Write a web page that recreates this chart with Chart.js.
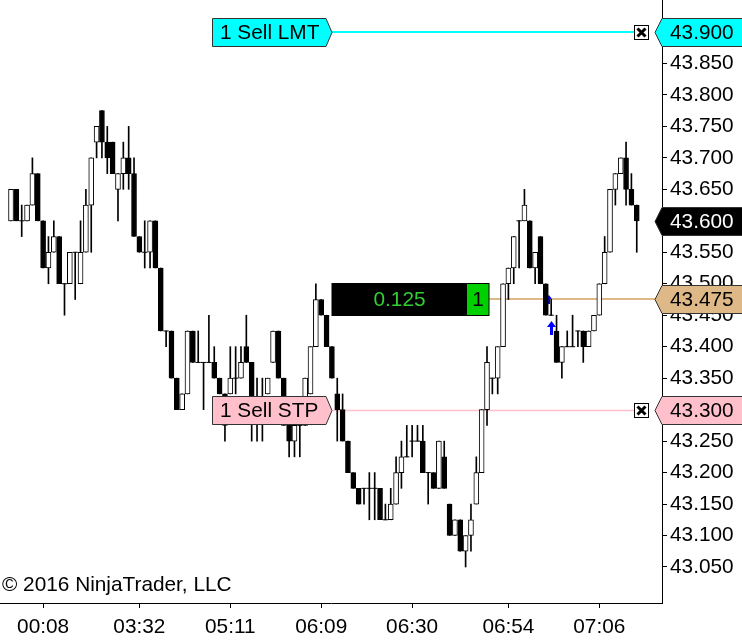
<!DOCTYPE html>
<html>
<head>
<meta charset="UTF-8">
<title>Chart</title>
<script src="https://cdn.jsdelivr.net/npm/chart.js"></script>
<style>
  html, body { margin: 0; padding: 0; background: #fff; }
  #box { width: 742px; height: 644px; }
</style>
</head>
<body>
<div id="box"><canvas id="grafico"></canvas></div>
<script>
// OHLC per bar (tick size 0.025)
const opens = [
  43.600, 43.650, 43.600, 43.600, 43.625, 43.675, 43.600, 43.525, 43.550, 43.575,
  43.500, 43.500, 43.550, 43.500, 43.550, 43.625, 43.725, 43.775, 43.725, 43.725,
  43.650, 43.675, 43.700, 43.675, 43.575, 43.550, 43.550, 43.600, 43.525, 43.425,
  43.425, 43.350, 43.300, 43.325, 43.425, 43.375, 43.375, 43.375, 43.375, 43.350,
  43.325, 43.325, 43.350, 43.350, 43.400, 43.375, 43.300, 43.300, 43.325, 43.375,
  43.425, 43.350, 43.275, 43.250, 43.275, 43.275, 43.325, 43.400, 43.475, 43.450,
  43.400, 43.325, 43.300, 43.250, 43.200, 43.175, 43.175, 43.175, 43.175, 43.175,
  43.125, 43.125, 43.150, 43.200, 43.225, 43.250, 43.250, 43.250, 43.200, 43.200,
  43.175, 43.225, 43.150, 43.100, 43.125, 43.075, 43.100, 43.150, 43.200, 43.300,
  43.350, 43.350, 43.400, 43.500, 43.525, 43.600, 43.600, 43.600, 43.525, 43.575,
  43.500, 43.450, 43.425, 43.375, 43.400, 43.400, 43.425, 43.425, 43.400, 43.425,
  43.450, 43.500, 43.550, 43.650, 43.675, 43.700, 43.650, 43.625
];
const highs = [
  43.650, 43.650, 43.625, 43.625, 43.700, 43.675, 43.600, 43.575, 43.600, 43.575,
  43.500, 43.550, 43.550, 43.600, 43.650, 43.700, 43.750, 43.775, 43.750, 43.725,
  43.675, 43.725, 43.750, 43.700, 43.575, 43.600, 43.600, 43.600, 43.525, 43.425,
  43.425, 43.350, 43.325, 43.425, 43.425, 43.425, 43.375, 43.450, 43.400, 43.350,
  43.325, 43.400, 43.400, 43.400, 43.450, 43.375, 43.350, 43.350, 43.350, 43.425,
  43.425, 43.350, 43.275, 43.275, 43.300, 43.350, 43.400, 43.500, 43.475, 43.450,
  43.400, 43.350, 43.325, 43.250, 43.200, 43.175, 43.175, 43.200, 43.200, 43.175,
  43.150, 43.175, 43.225, 43.250, 43.275, 43.275, 43.275, 43.275, 43.200, 43.200,
  43.250, 43.250, 43.150, 43.125, 43.125, 43.100, 43.150, 43.225, 43.300, 43.400,
  43.350, 43.400, 43.500, 43.525, 43.575, 43.600, 43.650, 43.600, 43.550, 43.575,
  43.500, 43.475, 43.450, 43.400, 43.425, 43.450, 43.425, 43.425, 43.425, 43.450,
  43.500, 43.575, 43.650, 43.675, 43.700, 43.725, 43.675, 43.625
];
const lows = [
  43.600, 43.600, 43.575, 43.600, 43.625, 43.600, 43.525, 43.500, 43.550, 43.500,
  43.450, 43.500, 43.475, 43.500, 43.550, 43.550, 43.700, 43.700, 43.675, 43.675,
  43.600, 43.650, 43.650, 43.575, 43.550, 43.525, 43.525, 43.525, 43.425, 43.400,
  43.350, 43.300, 43.300, 43.325, 43.375, 43.375, 43.300, 43.375, 43.350, 43.325,
  43.250, 43.325, 43.325, 43.350, 43.375, 43.250, 43.250, 43.250, 43.325, 43.375,
  43.350, 43.275, 43.225, 43.225, 43.225, 43.275, 43.325, 43.400, 43.450, 43.400,
  43.350, 43.250, 43.250, 43.200, 43.175, 43.150, 43.150, 43.125, 43.125, 43.125,
  43.125, 43.125, 43.150, 43.175, 43.225, 43.225, 43.250, 43.200, 43.150, 43.175,
  43.175, 43.175, 43.100, 43.100, 43.075, 43.050, 43.075, 43.150, 43.200, 43.275,
  43.325, 43.325, 43.400, 43.475, 43.500, 43.525, 43.600, 43.525, 43.500, 43.500,
  43.450, 43.450, 43.375, 43.350, 43.400, 43.400, 43.400, 43.375, 43.400, 43.425,
  43.450, 43.500, 43.550, 43.625, 43.675, 43.625, 43.625, 43.550
];
const closes = [
  43.650, 43.600, 43.600, 43.625, 43.675, 43.600, 43.525, 43.550, 43.575, 43.500,
  43.500, 43.550, 43.550, 43.550, 43.625, 43.700, 43.750, 43.725, 43.700, 43.675,
  43.675, 43.700, 43.675, 43.575, 43.550, 43.550, 43.600, 43.525, 43.425, 43.425,
  43.350, 43.300, 43.325, 43.425, 43.375, 43.375, 43.375, 43.375, 43.350, 43.325,
  43.275, 43.350, 43.350, 43.375, 43.375, 43.300, 43.300, 43.300, 43.350, 43.425,
  43.350, 43.275, 43.250, 43.275, 43.275, 43.350, 43.400, 43.475, 43.450, 43.400,
  43.350, 43.300, 43.250, 43.200, 43.175, 43.150, 43.175, 43.175, 43.175, 43.125,
  43.125, 43.150, 43.200, 43.225, 43.225, 43.250, 43.250, 43.200, 43.200, 43.175,
  43.250, 43.175, 43.100, 43.125, 43.075, 43.100, 43.125, 43.200, 43.300, 43.375,
  43.350, 43.400, 43.500, 43.525, 43.575, 43.600, 43.625, 43.525, 43.550, 43.500,
  43.450, 43.450, 43.375, 43.400, 43.400, 43.400, 43.425, 43.400, 43.425, 43.450,
  43.500, 43.550, 43.650, 43.675, 43.700, 43.650, 43.625, 43.600
];

const timeLabels = ['00:08', '03:32', '05:11', '06:09', '06:30', '06:54', '07:06'];
const timeBars = [6, 24, 41, 58, 75, 93, 110];
const priceTicks = [43.05, 43.10, 43.15, 43.20, 43.25, 43.30, 43.35, 43.40, 43.45,
                    43.50, 43.55, 43.60, 43.65, 43.70, 43.75, 43.80, 43.85, 43.90];

const limitPrice = 43.900;
const stopPrice = 43.300;
const avgPrice = 43.475;
const lastPrice = 43.600;
const pnlText = '0.125';
const qtyText = '1';

const FONT_FAMILY = 'Arial, "Liberation Sans", sans-serif';
const FONT_SIZE = 20.8;
const FONT = FONT_SIZE + 'px ' + FONT_FAMILY;

const wickData = [], bodyData = [], bodyColors = [], dojiData = [];
opens.forEach((o, i) => {
  wickData.push({ x: i, y: [lows[i], highs[i]] });
  if (o === closes[i]) {
    dojiData.push({ x: i, y: o });
  } else {
    bodyData.push({ x: i, y: [o, closes[i]] });
    bodyColors.push(closes[i] > o ? '#ffffff' : '#000000');
  }
});

function tag(ctx, pts, fill, stroke) {
  ctx.beginPath();
  pts.forEach((p, k) => k ? ctx.lineTo(p[0], p[1]) : ctx.moveTo(p[0], p[1]));
  ctx.closePath();
  ctx.fillStyle = fill;
  ctx.fill();
  ctx.strokeStyle = stroke;
  ctx.lineWidth = 1;
  ctx.stroke();
}

function priceTag(ctx, yc, fill, color, text) {
  tag(ctx, [[655, yc], [662, yc - 14], [743, yc - 14], [743, yc + 14], [662, yc + 14]], fill, '#333');
  ctx.fillStyle = color;
  ctx.font = FONT;
  ctx.textAlign = 'left';
  ctx.textBaseline = 'middle';
  ctx.fillText(text, 670, yc + 1);
}

function orderTag(ctx, yc, fill, text) {
  tag(ctx, [[212.5, yc - 14], [326, yc - 14], [332, yc], [326, yc + 14], [212.5, yc + 14]], fill, '#333');
  ctx.fillStyle = '#000';
  ctx.font = FONT;
  ctx.textAlign = 'left';
  ctx.textBaseline = 'middle';
  ctx.fillText(text, 220, yc + 1);
}

function closeBox(ctx, yc) {
  const y0 = Math.round(yc) - 7.5;
  ctx.fillStyle = '#fff';
  ctx.fillRect(634.5, y0, 14, 14);
  ctx.strokeStyle = '#000';
  ctx.lineWidth = 1;
  ctx.strokeRect(634.5, y0, 14, 14);
  ctx.lineWidth = 3;
  ctx.beginPath();
  ctx.moveTo(637.5, y0 + 3); ctx.lineTo(645.5, y0 + 11);
  ctx.moveTo(645.5, y0 + 3); ctx.lineTo(637.5, y0 + 11);
  ctx.stroke();
}

function hline(ctx, x0, x1, y, color, w) {
  ctx.strokeStyle = color;
  ctx.lineWidth = w;
  ctx.beginPath();
  ctx.moveTo(x0, y);
  ctx.lineTo(x1, y);
  ctx.stroke();
}

function upArrow(ctx, x, top, bottom, headH, headW, shaftW) {
  ctx.fillStyle = '#0000ff';
  ctx.beginPath();
  ctx.moveTo(x, top);
  ctx.lineTo(x + headW, top + headH);
  ctx.lineTo(x + shaftW, top + headH);
  ctx.lineTo(x + shaftW, bottom);
  ctx.lineTo(x - shaftW, bottom);
  ctx.lineTo(x - shaftW, top + headH);
  ctx.lineTo(x - headW, top + headH);
  ctx.closePath();
  ctx.fill();
}

const overlay = {
  id: 'overlay',
  beforeDatasetsDraw(chart) {
    const ctx = chart.ctx;
    const y = chart.scales.y;
    ctx.save();
    hline(ctx, 332, 635, Math.round(y.getPixelForValue(limitPrice)), '#00ffff', 2);
    hline(ctx, 333, 635, Math.round(y.getPixelForValue(stopPrice)) + 0.5, '#ffc0cb', 1.5);
    hline(ctx, 489, 655, Math.round(y.getPixelForValue(avgPrice)), '#deb887', 2);
    upArrow(ctx, 549, 295, 304, 4, 3, 1);
    ctx.restore();
  },
  afterDraw(chart) {
    const ctx = chart.ctx;
    const y = chart.scales.y;
    const yl = Math.round(y.getPixelForValue(limitPrice)) + 0.5;
    const ys = Math.round(y.getPixelForValue(stopPrice)) + 0.5;
    const ya = Math.round(y.getPixelForValue(avgPrice)) + 0.5;
    const yc = Math.round(y.getPixelForValue(lastPrice)) + 0.5;
    ctx.save();

    orderTag(ctx, yl, '#00ffff', '1 Sell LMT');
    orderTag(ctx, ys, '#ffc0cb', '1 Sell STP');
    closeBox(ctx, yl);
    closeBox(ctx, ys);

    // position box
    ctx.fillStyle = '#000';
    ctx.fillRect(332, ya - 16, 135, 32);
    ctx.fillStyle = '#00d000';
    ctx.fillRect(467, ya - 16, 22, 32);
    ctx.strokeStyle = '#000';
    ctx.lineWidth = 1;
    ctx.strokeRect(332, ya - 16, 157, 32);
    ctx.font = FONT;
    ctx.textAlign = 'center';
    ctx.textBaseline = 'middle';
    ctx.fillStyle = '#32cd32';
    ctx.fillText(pnlText, 399.5, ya + 1);
    ctx.fillStyle = '#000';
    ctx.fillText(qtyText, 478, ya + 1);

    upArrow(ctx, 551.5, 321, 335, 6, 4.5, 1.5);

    priceTag(ctx, yl, '#00ffff', '#000', limitPrice.toFixed(3));
    priceTag(ctx, yc, '#000000', '#fff', lastPrice.toFixed(3));
    priceTag(ctx, ya, '#deb887', '#000', avgPrice.toFixed(3));
    priceTag(ctx, ys, '#ffc0cb', '#000', stopPrice.toFixed(3));

    ctx.fillStyle = '#000';
    ctx.font = FONT;
    ctx.textAlign = 'left';
    ctx.textBaseline = 'alphabetic';
    ctx.fillText('\u00a9 2016 NinjaTrader, LLC', 2, 591);
    ctx.restore();
  }
};

const axisGrid = { drawOnChartArea: false, drawTicks: true, tickLength: 5, color: '#000', lineWidth: 1, offset: false };
const axisBorder = { display: true, color: '#000', width: 1 };

new Chart(document.getElementById('grafico'), {
  type: 'bar',
  data: {
    datasets: [
      {
        label: 'bodies',
        data: bodyData,
        backgroundColor: bodyColors,
        borderColor: '#000',
        borderWidth: 1,
        borderSkipped: false,
        barThickness: 5,
        grouped: false,
        order: 0
      },
      {
        type: 'scatter',
        label: 'doji',
        data: dojiData,
        pointStyle: 'line',
        radius: 2.6,
        hoverRadius: 2.6,
        borderColor: '#000',
        borderWidth: 1,
        order: 1
      },
      {
        label: 'wicks',
        data: wickData,
        backgroundColor: '#000',
        borderWidth: 0,
        barThickness: 1,
        grouped: false,
        order: 2
      }
    ]
  },
  options: {
    responsive: true,
    maintainAspectRatio: false,
    animation: false,
    events: [],
    layout: { padding: 0, autoPadding: false },
    plugins: { legend: { display: false }, tooltip: { enabled: false } },
    scales: {
      x: {
        type: 'linear',
        offset: false,
        min: -2.06,
        max: 121.72,
        afterBuildTicks: s => { s.ticks = timeBars.map(v => ({ value: v })); },
        afterFit: s => { s.height = 41; s.paddingLeft = 0; s.paddingRight = 0; },
        ticks: {
          callback: v => timeLabels[timeBars.indexOf(v)],
          font: { family: FONT_FAMILY, size: FONT_SIZE },
          color: '#000',
          padding: 7,
          maxRotation: 0,
          autoSkip: false
        },
        grid: axisGrid,
        border: axisBorder
      },
      y: {
        type: 'linear',
        position: 'right',
        min: 42.9928,
        max: 43.9508,
        afterBuildTicks: s => { s.ticks = priceTicks.map(v => ({ value: v })); },
        afterFit: s => { s.width = 80; s.paddingTop = 0; s.paddingBottom = 0; },
        ticks: {
          callback: v => v.toFixed(3),
          font: { family: FONT_FAMILY, size: FONT_SIZE },
          color: '#000',
          padding: 3
        },
        grid: axisGrid,
        border: axisBorder
      }
    }
  },
  plugins: [overlay]
});
</script>
</body>
</html>
